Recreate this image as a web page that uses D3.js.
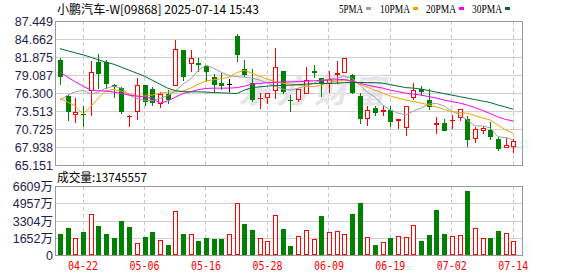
<!DOCTYPE html>
<html>
<head>
<meta charset="utf-8">
<script src="https://cdn.jsdelivr.net/npm/d3@7"></script>
<style>
body{margin:0;background:#fff}
svg{display:block}
</style>
</head>
<body>
<div id="chart"></div>
<script>
const title = '小鹏汽车-W[09868] 2025-07-14 15:43';
const volTitle = '成交量:13745557';

const dates = ['04-15','04-16','04-17','04-22','04-23','04-24','04-25','04-28','04-29','04-30',
	'05-02','05-06','05-07','05-08','05-09','05-12','05-13','05-14','05-15','05-16',
	'05-19','05-20','05-21','05-22','05-23','05-26','05-27','05-28','05-29','05-30',
	'06-02','06-03','06-04','06-05','06-06','06-09','06-10','06-11','06-12','06-13',
	'06-16','06-17','06-18','06-19','06-20','06-23','06-24','06-25','06-26','06-27',
	'06-30','07-02','07-03','07-04','07-07','07-08','07-09','07-10','07-11','07-14'];

const open = [81.41,75.84,73.00,73.10,76.61,81.15,81.15,77.54,77.12,72.75,
	73.51,77.54,77.03,74.72,76.15,77.43,83.11,80.90,81.03,80.53,
	78.82,77.85,77.80,85.13,80.12,77.96,75.45,75.64,76.61,79.86,
	75.30,75.37,76.25,79.86,78.73,77.80,79.20,79.50,79.19,75.99,
	72.38,74.02,73.51,73.67,72.01,70.99,75.64,77.03,75.37,71.45,
	71.76,72.05,72.54,72.38,69.29,70.57,70.68,69.18,67.89,67.98];
const high = [81.83,76.00,75.63,74.29,81.30,82.34,81.41,77.80,77.28,72.90,
	78.73,77.60,77.28,76.50,76.77,84.51,83.11,83.07,81.83,80.60,
	79.35,79.44,78.57,85.54,81.41,80.12,76.35,76.41,83.32,79.86,
	76.00,76.92,80.48,80.79,78.73,79.86,81.26,81.83,79.35,76.35,
	74.29,74.44,74.44,74.29,72.38,74.29,77.89,77.39,77.03,72.63,
	72.38,72.93,73.93,72.89,71.08,71.34,71.86,69.64,69.64,69.29];
const low = [77.54,72.01,71.70,71.19,72.89,77.03,77.03,75.63,73.16,71.08,
	72.23,74.44,74.44,74.08,74.72,77.43,78.16,79.60,79.60,78.05,
	76.35,76.87,76.50,81.15,78.82,74.95,73.93,74.60,75.48,76.25,
	73.40,74.95,76.25,78.73,75.73,76.35,77.80,79.50,76.25,71.50,
	71.34,72.89,72.74,71.19,70.83,69.69,75.22,75.84,73.78,70.06,
	70.57,70.83,72.01,67.98,68.61,70.06,69.13,67.47,67.89,67.05];
const close = [78.93,73.40,73.51,72.90,79.70,79.35,77.80,77.28,73.51,72.85,
	77.65,74.95,74.90,76.15,75.22,83.22,78.82,81.83,80.79,79.70,
	77.54,77.50,77.80,82.19,79.09,75.37,75.60,76.41,80.48,76.50,
	75.15,76.92,78.42,79.44,77.90,78.57,79.45,81.83,76.35,72.38,
	73.78,73.25,73.78,71.86,72.38,74.29,76.77,76.50,74.18,71.76,
	70.57,72.15,73.93,69.13,70.83,70.99,69.53,67.63,68.25,69.02];
// 万股
const volume = [2060,2635,1648,2280,3976,2826,2060,1677,3305,2730,
	1169,1744,2251,1485,1006,4263,2060,2060,1389,1677,
	1581,1581,2060,5030,3018,2443,1648,1389,3880,2539,
	910,1839,2414,1552,3784,2251,2347,2060,3976,5030,
	1744,1006,1293,1677,1839,1744,2893,1389,1964,4359,
	2060,1839,1935,6179,2606,1648,1677,2347,2127,1374.56];

const ma5 = [75.28,76.05,76.56,76.82,76.21,76.51,77.13,77.44,77.13,76.05,
	75.54,75.28,75.17,75.54,75.97,76.67,77.75,78.52,79.90,80.67,
	80.21,79.59,79.06,78.90,78.83,78.67,78.36,77.90,77.44,76.98,
	76.82,77.13,77.44,77.90,78.36,78.52,78.67,78.98,78.67,77.59,
	76.51,75.74,74.51,73.74,73.28,72.97,73.59,74.05,74.67,74.77,
	74.36,73.59,72.97,72.20,71.28,71.28,70.97,69.63,69.43,69.12];
const ma10 = [75.54,74.97,74.36,73.13,74.25,75.59,76.75,76.93,76.67,76.21,
	75.90,75.90,76.05,76.36,76.51,76.56,76.67,77.13,77.75,78.21,
	78.44,78.59,78.82,79.52,79.90,79.44,78.98,78.52,78.13,77.90,
	77.75,77.59,77.44,77.36,77.59,78.05,78.21,78.36,78.28,77.75,
	77.28,76.82,76.36,75.90,75.59,75.28,75.05,74.82,74.51,74.21,
	73.82,73.51,73.36,73.23,72.90,72.51,72.20,71.43,70.66,70.15];
const ma20 = [79.64,78.83,78.10,77.44,76.82,76.72,76.67,76.51,76.31,76.05,
	75.90,75.75,75.54,74.82,75.13,75.74,76.28,76.59,76.90,77.08,
	77.13,77.13,77.13,77.21,77.44,77.75,77.85,77.98,78.01,78.09,
	78.10,78.16,78.21,78.27,78.32,78.36,78.43,78.47,78.21,77.90,
	77.59,77.36,77.13,76.82,76.59,76.36,76.21,76.05,75.82,75.59,
	75.28,75.05,74.82,74.51,74.13,73.67,73.20,72.67,72.28,72.05];
const ma30 = [83.25,82.91,82.60,82.29,81.91,81.52,81.13,80.83,80.37,79.90,
	79.44,78.98,78.36,77.75,77.13,76.75,76.59,76.56,76.56,76.52,
	76.44,76.41,76.36,76.28,76.82,77.21,77.33,77.44,77.52,77.55,
	77.59,77.67,77.75,77.82,77.85,77.85,77.90,77.98,78.01,78.01,
	77.98,77.98,77.90,77.67,77.44,77.21,77.13,76.98,76.75,76.51,
	76.28,76.05,75.82,75.59,75.36,75.13,74.90,74.51,74.21,73.85];

const priceTicks = [87.449,84.662,81.875,79.087,76.300,73.513,70.725,67.938,65.151];
const volTicks = [0,1652,3304,4957,6609];
const dateTicks = ['04-22','05-06','05-16','05-28','06-09','06-19','07-02','07-14'];

const maNames = ['5PMA','10PMA','20PMA','30PMA'];
const maColors = ['#a0a0a0','#f5a300','#ff00ff','#006b33'];

const upColor = '#ff0000';
const downColor = '#008000';

let svg = d3.select('#chart')
	.append('svg')
	.attr('width', 578)
	.attr('height', 276)
	.style('font-family', '"Liberation Sans", Arial, sans-serif');

let left = 55, right = 522;

let x = d3.scalePoint().domain(dates).range([60, 513.3]);
let y = d3.scaleLinear().domain([65.151, 87.449]).range([165.5, 21.5]);
let vy = d3.scaleLinear().domain([0, 6609]).range([255.5, 186.5]);

let px = v => Math.floor(v) + 0.5;

// grids
function grid(yScale, ticks, top, bottom) {
	let g = svg.append('g');
	g.selectAll('line.h').data(ticks).join('line')
		.attr('x1', left).attr('x2', right)
		.attr('y1', d => px(yScale(d))).attr('y2', d => px(yScale(d)))
		.attr('stroke', '#d0d0d0');
	g.selectAll('line.v').data(dateTicks).join('line')
		.attr('x1', d => px(x(d))).attr('x2', d => px(x(d)))
		.attr('y1', top).attr('y2', bottom)
		.attr('stroke', '#c8c8c8')
		.attr('stroke-dasharray', '4,3');
	g.append('rect')
		.attr('x', left + 0.5).attr('y', top + 0.5)
		.attr('width', right - left).attr('height', bottom - top - 1)
		.attr('fill', 'none').attr('stroke', '#999');
}
grid(y, priceTicks, 21, 166);
grid(vy, volTicks, 186, 256);

// watermark
svg.append('text')
	.attr('x', 238).attr('y', 103)
	.attr('font-family', '"Noto Sans CJK SC"')
	.attr('font-size', 33).attr('font-weight', 'bold').attr('font-style', 'italic')
	.attr('letter-spacing', 5)
	.attr('fill', '#e4e4ea')
	.text('东方财富');

// candles
let candles = dates.map((d, i) => ({
	d: d, o: open[i], h: high[i], l: low[i], c: close[i], v: volume[i],
	up: i === 0 ? close[i] >= open[i] : close[i] >= close[i - 1]
}));

let gc = svg.append('g');
candles.forEach(k => {
	let cx = Math.round(x(k.d));
	let top = Math.round(y(Math.max(k.o, k.c)));
	let bot = Math.round(y(Math.min(k.o, k.c)));
	let hi = Math.round(y(k.h)), lo = Math.round(y(k.l));
	let col = k.c > k.o ? upColor : k.c < k.o ? downColor : '#000';
	if (k.c > k.o && bot - top >= 2) {
		gc.append('line').attr('x1', cx + 0.5).attr('x2', cx + 0.5).attr('y1', hi).attr('y2', top).attr('stroke', col);
		gc.append('line').attr('x1', cx + 0.5).attr('x2', cx + 0.5).attr('y1', bot).attr('y2', lo).attr('stroke', col);
		gc.append('rect').attr('x', cx - 1.5).attr('y', top + 0.5)
			.attr('width', 4).attr('height', bot - top - 1)
			.attr('fill', '#fff').attr('stroke', col);
	} else if (k.c < k.o && bot - top >= 1) {
		gc.append('line').attr('x1', cx + 0.5).attr('x2', cx + 0.5).attr('y1', hi).attr('y2', lo).attr('stroke', col);
		gc.append('rect').attr('x', cx - 2).attr('y', top)
			.attr('width', 5).attr('height', bot - top)
			.attr('fill', col);
	} else {
		gc.append('line').attr('x1', cx + 0.5).attr('x2', cx + 0.5).attr('y1', hi).attr('y2', lo).attr('stroke', col);
		gc.append('line').attr('x1', cx - 2).attr('x2', cx + 3).attr('y1', top + 0.5).attr('y2', top + 0.5).attr('stroke', col);
	}

	let vt = Math.round(vy(k.v));
	if (k.up) {
		gc.append('rect').attr('x', cx - 1.5).attr('y', vt + 0.5)
			.attr('width', 4).attr('height', 255 - vt - 1)
			.attr('fill', '#fff').attr('stroke', upColor);
	} else {
		gc.append('rect').attr('x', cx - 2).attr('y', vt)
			.attr('width', 5).attr('height', 255 - vt)
			.attr('fill', downColor);
	}
});

// moving averages
let line = d3.line().x((v, i) => x(dates[i])).y(v => y(v));
[ma5, ma10, ma20, ma30].forEach((s, j) => {
	svg.append('path')
		.attr('d', line(s))
		.attr('fill', 'none')
		.attr('stroke', maColors[j])
		.attr('stroke-width', 1);
});

// axis labels
svg.append('g').selectAll('text').data(priceTicks).join('text')
	.attr('x', 53).attr('y', d => y(d) + 4.5)
	.attr('text-anchor', 'end')
	.attr('font-size', 12.5)
	.attr('fill', '#1e2448')
	.text(d => d.toFixed(3));

svg.append('g').selectAll('text').data(volTicks).join('text')
	.attr('x', 53).attr('y', d => vy(d) + 4.5)
	.attr('text-anchor', 'end')
	.attr('font-size', 12.5)
	.attr('fill', '#1e2448')
	.attr('font-family', '"Liberation Sans", "Noto Sans CJK SC", sans-serif')
	.text(d => d === 0 ? '0' : d + '万');

svg.append('g').selectAll('text').data(dateTicks).join('text')
	.attr('x', d => x(d)).attr('y', 270)
	.attr('text-anchor', 'middle')
	.attr('font-family', '"DejaVu Sans Mono", monospace')
	.attr('font-size', 12)
	.attr('textLength', 30).attr('lengthAdjust', 'spacingAndGlyphs')
	.attr('fill', '#ff0000')
	.text(d => d);

// titles
svg.append('text')
	.attr('x', 57).attr('y', 14)
	.attr('font-family', '"Noto Sans CJK SC", sans-serif')
	.attr('font-size', 12)
	.attr('textLength', 202).attr('lengthAdjust', 'spacingAndGlyphs')
	.attr('fill', '#000')
	.text(title);

svg.append('text')
	.attr('x', 57).attr('y', 182)
	.attr('font-family', '"Noto Sans CJK SC", sans-serif')
	.attr('font-size', 12)
	.attr('textLength', 90).attr('lengthAdjust', 'spacingAndGlyphs')
	.attr('fill', '#000')
	.text(volTitle);

// legend
let legendX = [339, 380, 426, 472];
let legendW = [24, 30, 30, 30];
let lg = svg.append('g');
maNames.forEach((n, j) => {
	lg.append('text')
		.attr('x', legendX[j]).attr('y', 13)
		.attr('font-family', '"Liberation Serif", serif')
		.attr('font-size', 12.5)
		.attr('textLength', legendW[j]).attr('lengthAdjust', 'spacingAndGlyphs')
		.attr('fill', '#000')
		.text(n);
	lg.append('rect')
		.attr('x', legendX[j] + legendW[j] + 3).attr('y', 7)
		.attr('width', 5).attr('height', 3)
		.attr('fill', maColors[j]);
});
</script>
</body>
</html>
